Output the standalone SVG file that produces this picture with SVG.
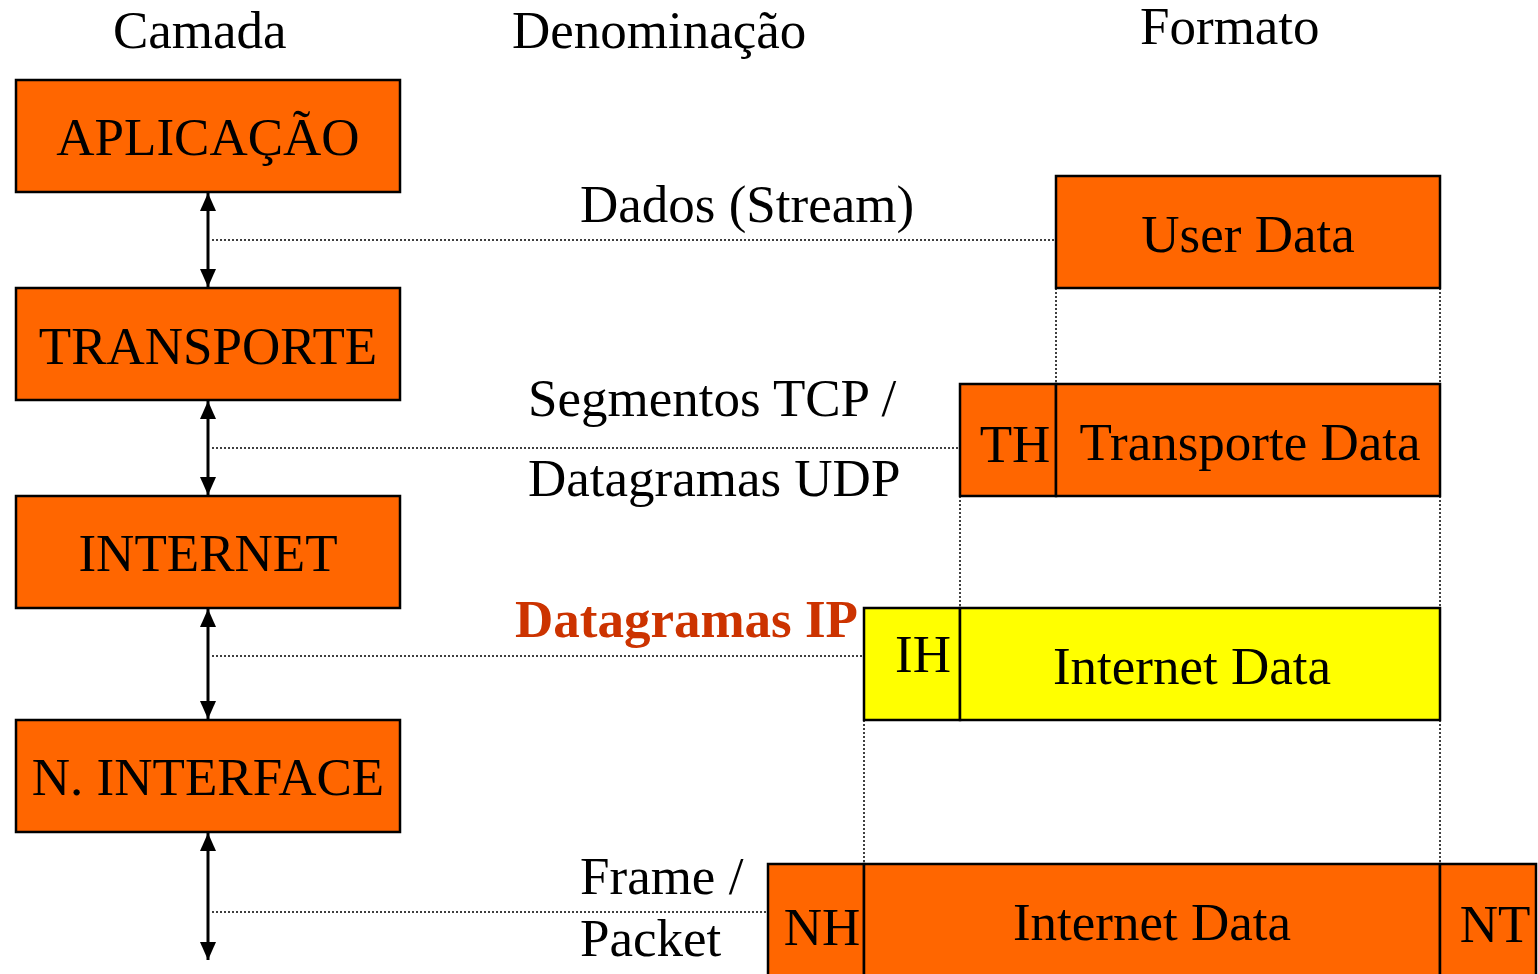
<svg xmlns="http://www.w3.org/2000/svg" width="1538" height="974" viewBox="0 0 1538 974">
  <defs>
    <marker id="ah" viewBox="0 0 18 16" refX="18" refY="8" markerWidth="18" markerHeight="16" orient="auto-start-reverse" markerUnits="userSpaceOnUse">
      <path d="M0,0 L18,8 L0,16 z" fill="#000"/>
    </marker>
    <style>
      text { font-family: "Liberation Serif", "Times New Roman", serif; font-size: 53px; fill: #000; }
      .box { fill: #FF6600; stroke: #000; stroke-width: 2.5; }
      .ybox { fill: #FFFF00; stroke: #000; stroke-width: 2.5; }
      .dot { stroke: #000; stroke-width: 1.5; stroke-dasharray: 2 2; fill: none; }
      .arrow { stroke: #000; stroke-width: 3; fill: none; marker-start: url(#ah); marker-end: url(#ah); }
      .mid { text-anchor: middle; }
      .hl { font-weight: bold; fill: #CC3300; }
    </style>
  </defs>
  <rect width="1538" height="974" fill="#fff"/>

  <!-- column headings -->
  <g id="headings">
    <text x="113" y="48">Camada</text>
    <text x="512" y="48">Denominação</text>
    <text x="1140" y="44">Formato</text>
  </g>

  <!-- connectors: layer arrows and guide lines -->
  <g id="connectors">
    <line class="arrow" x1="208" y1="193" x2="208" y2="287"/>
    <line class="arrow" x1="208" y1="401" x2="208" y2="495"/>
    <line class="arrow" x1="208" y1="609" x2="208" y2="719"/>
    <line class="arrow" x1="208" y1="833" x2="208" y2="960"/>
    <line class="dot" x1="212" y1="240" x2="1056" y2="240"/>
    <line class="dot" x1="212" y1="448" x2="960" y2="448"/>
    <line class="dot" x1="212" y1="656" x2="864" y2="656"/>
    <line class="dot" x1="212" y1="912" x2="768" y2="912"/>
    <line class="dot" x1="1056" y1="288" x2="1056" y2="384"/>
    <line class="dot" x1="1440" y1="288" x2="1440" y2="384"/>
    <line class="dot" x1="960" y1="496" x2="960" y2="608"/>
    <line class="dot" x1="1440" y1="496" x2="1440" y2="608"/>
    <line class="dot" x1="864" y1="720" x2="864" y2="864"/>
    <line class="dot" x1="1440" y1="720" x2="1440" y2="864"/>
  </g>

  <!-- layers -->
  <g id="aplicacao">
    <rect class="box" x="16" y="80" width="384" height="112"/>
    <text class="mid" x="208" y="155">APLICAÇÃO</text>
  </g>
  <g id="transporte">
    <rect class="box" x="16" y="288" width="384" height="112"/>
    <text class="mid" x="208" y="364">TRANSPORTE</text>
  </g>
  <g id="internet">
    <rect class="box" x="16" y="496" width="384" height="112"/>
    <text class="mid" x="208" y="571">INTERNET</text>
  </g>
  <g id="interface">
    <rect class="box" x="16" y="720" width="384" height="112"/>
    <text class="mid" x="208" y="795">N. INTERFACE</text>
  </g>

  <!-- names -->
  <g id="names">
    <text x="580" y="222">Dados (Stream)</text>
    <text x="528" y="416">Segmentos TCP /</text>
    <text x="528" y="496">Datagramas UDP</text>
    <text class="hl" x="515" y="637">Datagramas IP</text>
    <text x="580" y="894">Frame /</text>
    <text x="580" y="956">Packet</text>
  </g>

  <!-- formats -->
  <g id="user-data">
    <rect class="box" x="1056" y="176" width="384" height="112"/>
    <text class="mid" x="1248" y="252">User Data</text>
  </g>
  <g id="transport-segment">
    <rect class="box" x="960" y="384" width="96" height="112"/>
    <rect class="box" x="1056" y="384" width="384" height="112"/>
    <text class="mid" x="1015" y="462">TH</text>
    <text class="mid" x="1250" y="460">Transporte Data</text>
  </g>
  <g id="ip-datagram">
    <rect class="ybox" x="864" y="608" width="96" height="112"/>
    <rect class="ybox" x="960" y="608" width="480" height="112"/>
    <text class="mid" x="923" y="672">IH</text>
    <text class="mid" x="1192" y="684">Internet Data</text>
  </g>
  <g id="frame">
    <rect class="box" x="768" y="864" width="96" height="120"/>
    <rect class="box" x="864" y="864" width="576" height="120"/>
    <rect class="box" x="1440" y="864" width="96" height="120"/>
    <text class="mid" x="822" y="945">NH</text>
    <text class="mid" x="1152" y="940">Internet Data</text>
    <text class="mid" x="1495" y="942">NT</text>
  </g>
</svg>
